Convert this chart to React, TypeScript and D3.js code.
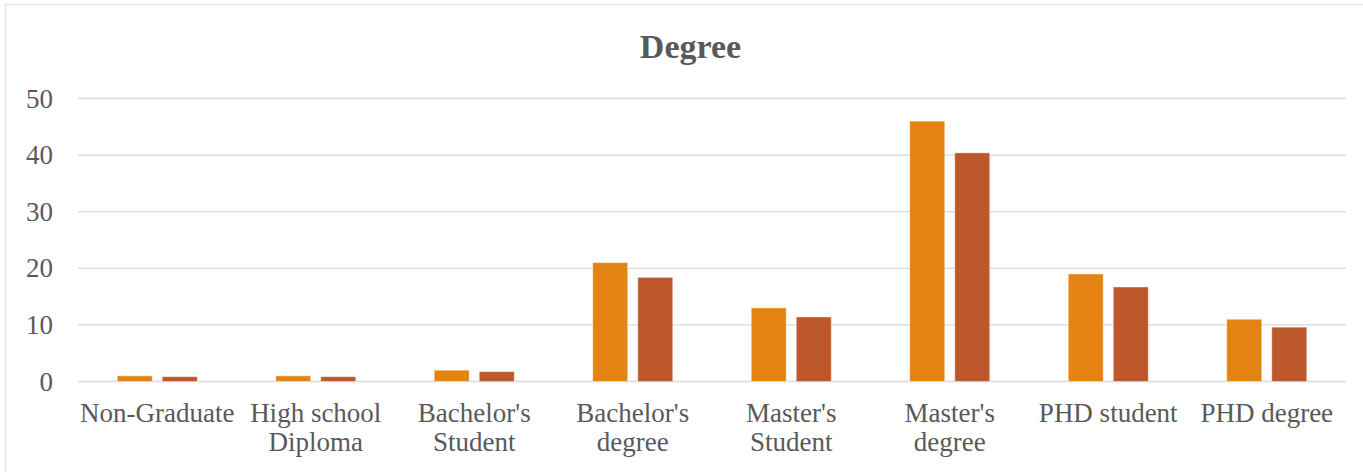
import React, { useEffect, useRef } from "react";
import * as d3 from "d3";

// categories (with the line breaks used on the axis)
const categories = [
  "Non-Graduate",
  "High school\nDiploma",
  "Bachelor's\nStudent",
  "Bachelor's\ndegree",
  "Master's\nStudent",
  "Master's\ndegree",
  "PHD student",
  "PHD degree",
];

const series1 = [1, 1, 2, 21, 13, 46, 19, 11];
const series2 = [0.85, 0.85, 1.75, 18.4, 11.4, 40.4, 16.7, 9.6];
const seriesNames = ["Series1", "Series2"];
const seriesColors = ["#E48312", "#BD582C"];
const yTicks = [0, 10, 20, 30, 40, 50];

const App = () => {
  const svgRef = useRef<SVGSVGElement>(null);

  useEffect(() => {
    const svg = d3.select(svgRef.current);
    svg.selectAll("*").remove();

    const width = 1363;
    const height = 472;
    const margin = { top: 98.5, right: 17, bottom: 90.5, left: 78 };
    const font = "'Liberation Serif', 'Times New Roman', serif";
    const textColor = "#595959";

    // chart border
    svg
      .append("rect")
      .attr("x", 5.5)
      .attr("y", 4.5)
      .attr("width", width + 10)
      .attr("height", height + 10)
      .attr("fill", "#fff")
      .attr("stroke", "#F2DFD6")
      .attr("stroke-width", 1.3);

    const x0 = d3
      .scaleBand()
      .domain(categories)
      .range([margin.left, width - margin.right])
      .paddingInner(0.495)
      .paddingOuter(0.2475);

    const x1 = d3
      .scaleBand()
      .domain(seriesNames)
      .range([0, x0.bandwidth()])
      .paddingInner(0.222);

    const y = d3
      .scaleLinear()
      .domain([0, 50])
      .range([height - margin.bottom, margin.top]);

    // gridlines
    svg
      .append("g")
      .selectAll("line")
      .data(yTicks)
      .enter()
      .append("line")
      .attr("x1", margin.left)
      .attr("x2", width - margin.right)
      .attr("y1", (d) => y(d))
      .attr("y2", (d) => y(d))
      .attr("stroke", "#D9D9D9")
      .attr("stroke-width", 1.3);

    // y labels
    svg
      .append("g")
      .selectAll("text")
      .data(yTicks)
      .enter()
      .append("text")
      .attr("x", 53)
      .attr("y", (d) => y(d))
      .attr("dy", "0.34em")
      .attr("text-anchor", "end")
      .attr("fill", textColor)
      .style("font-family", font)
      .style("font-size", "27px")
      .text((d) => d);

    // bars
    const rows = categories.map((c, i) => ({ cat: c, vals: [series1[i], series2[i]] }));
    const groups = svg
      .append("g")
      .selectAll("g")
      .data(rows)
      .enter()
      .append("g")
      .attr("transform", (d) => `translate(${x0(d.cat)},0)`);

    groups
      .selectAll("rect")
      .data((d) => d.vals.map((v, j) => ({ name: seriesNames[j], v, j })))
      .enter()
      .append("rect")
      .attr("x", (d) => x1(d.name))
      .attr("y", (d) => y(d.v))
      .attr("width", x1.bandwidth())
      .attr("height", (d) => y(0) - y(d.v))
      .attr("fill", (d) => seriesColors[d.j])
      .attr("stroke", "rgba(255,255,255,0.45)")
      .attr("stroke-width", 1);

    // category labels
    const labels = svg
      .append("g")
      .selectAll("text")
      .data(categories)
      .enter()
      .append("text")
      .attr("x", (d) => x0(d) + x0.bandwidth() / 2)
      .attr("y", 421.5)
      .attr("text-anchor", "middle")
      .attr("fill", textColor)
      .style("font-family", font)
      .style("font-size", "27px");

    labels
      .selectAll("tspan")
      .data((d) => d.split("\n").map((t) => ({ t, parent: d })))
      .enter()
      .append("tspan")
      .attr("x", (d) => x0(d.parent) + x0.bandwidth() / 2)
      .attr("dy", (d, i) => (i === 0 ? 0 : 29.5))
      .text((d) => d.t);

    // title
    svg
      .append("text")
      .attr("x", 690.5)
      .attr("y", 57.5)
      .attr("text-anchor", "middle")
      .attr("fill", textColor)
      .style("font-family", font)
      .style("font-size", "34px")
      .style("font-weight", "bold")
      .text("Degree");
  }, []);

  return (
    <svg
      ref={svgRef}
      width={1363}
      height={472}
      style={{ position: "absolute", left: 0, top: 0, display: "block" }}
    ></svg>
  );
};

export default App;
